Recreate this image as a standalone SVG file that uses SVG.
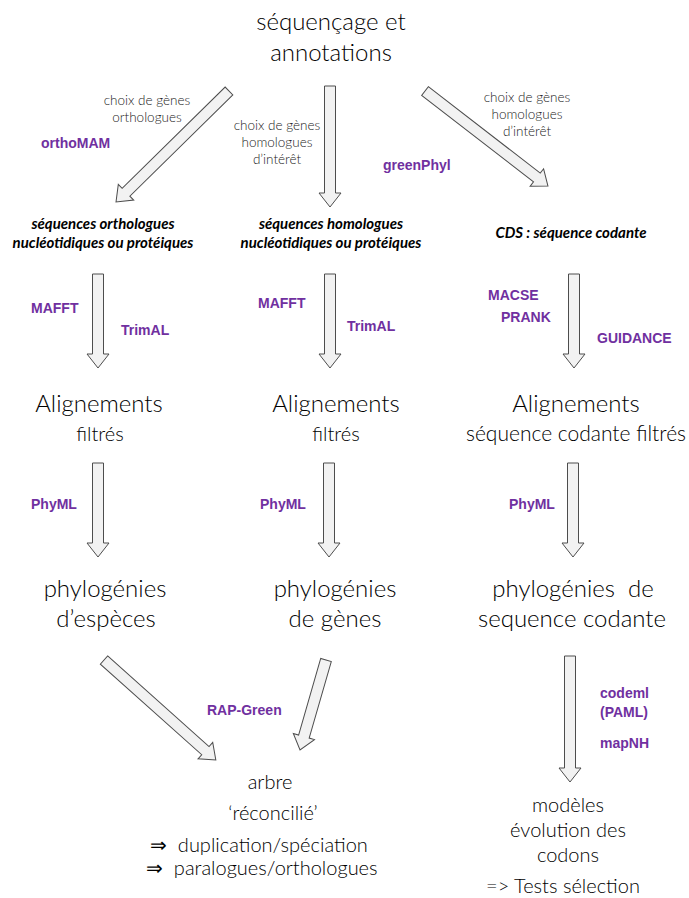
<svg xmlns="http://www.w3.org/2000/svg" width="689" height="898" viewBox="0 0 689 898">
<style>
.t{font-family:Lato,"Open Sans","Liberation Sans",sans-serif;fill:#000;font-weight:300}
.big{font-size:24px}
.mid{font-size:20px}
.sm{font-size:13.5px;fill:#222}
.bi{font-family:Lato,"Liberation Sans",sans-serif;font-size:15px;font-weight:bold;font-style:italic;fill:#000}
.tool{font-family:"Liberation Sans",Arial,sans-serif;font-size:14px;font-weight:bold;fill:#7030A0}
.arr{fill:#f2f2f2;stroke:#4d4d4d;stroke-width:1}
</style>
<rect width="689" height="898" fill="#fff"/>
<g id="connectors">
<path class="arr" transform="translate(229,91) rotate(135.5)" d="M0,-5.5H144.4V-11L158.4,0L144.4,11V5.5H0Z"/>
<path class="arr" transform="translate(330,86) rotate(90)" d="M0,-5.5H107V-11L121,0L107,11V5.5H0Z"/>
<path class="arr" transform="translate(425,91) rotate(37.7)" d="M0,-5.5H141.4V-11L155.4,0L141.4,11V5.5H0Z"/>
<path class="arr" transform="translate(98,274) rotate(90)" d="M0,-5.5H80V-11L94,0L80,11V5.5H0Z"/>
<path class="arr" transform="translate(330,274) rotate(90)" d="M0,-5.5H80V-11L94,0L80,11V5.5H0Z"/>
<path class="arr" transform="translate(574,274) rotate(90)" d="M0,-5.5H80V-11L94,0L80,11V5.5H0Z"/>
<path class="arr" transform="translate(98,463) rotate(90)" d="M0,-5.5H80V-11L94,0L80,11V5.5H0Z"/>
<path class="arr" transform="translate(329,463) rotate(90)" d="M0,-5.5H80V-11L94,0L80,11V5.5H0Z"/>
<path class="arr" transform="translate(573,463) rotate(90)" d="M0,-5.5H80V-11L94,0L80,11V5.5H0Z"/>
<path class="arr" transform="translate(104,660) rotate(41.8)" d="M0,-5.5H136V-11L150,0L136,11V5.5H0Z"/>
<path class="arr" transform="translate(326,660) rotate(106.1)" d="M0,-5.5H79.7V-11L93.7,0L79.7,11V5.5H0Z"/>
<path class="arr" transform="translate(570,656) rotate(90)" d="M0,-5.5H112V-11L126,0L112,11V5.5H0Z"/>
</g>
<g id="n-sequencage">
<text class="t big" x="331" y="30" text-anchor="middle">séquençage et</text>
<text class="t big" x="331" y="61" text-anchor="middle">annotations</text>
</g>
<g id="lbl-ortho">
<text class="t sm" x="147" y="105" text-anchor="middle">choix de gènes</text>
<text class="t sm" x="147" y="122" text-anchor="middle">orthologues</text>
</g>
<g id="lbl-homo1">
<text class="t sm" x="277" y="130" text-anchor="middle">choix de gènes</text>
<text class="t sm" x="277" y="147" text-anchor="middle">homologues</text>
<text class="t sm" x="277" y="164" text-anchor="middle">d’intérêt</text>
</g>
<g id="lbl-homo2">
<text class="t sm" x="527" y="102" text-anchor="middle">choix de gènes</text>
<text class="t sm" x="527" y="119" text-anchor="middle">homologues</text>
<text class="t sm" x="527" y="136" text-anchor="middle">d’intérêt</text>
</g>
<g id="tools-top">
<text class="tool" x="41" y="148">orthoMAM</text>
<text class="tool" x="383" y="170">greenPhyl</text>
</g>
<g id="n-seq-ortho">
<text class="bi" x="103" y="229" text-anchor="middle">séquences orthologues</text>
<text class="bi" x="103" y="248" text-anchor="middle">nucléotidiques ou protéiques</text>
</g>
<g id="n-seq-homo">
<text class="bi" x="331" y="229" text-anchor="middle">séquences homologues</text>
<text class="bi" x="331" y="248" text-anchor="middle">nucléotidiques ou protéiques</text>
</g>
<g id="n-cds">
<text class="bi" x="571" y="238" text-anchor="middle">CDS : séquence codante</text>
</g>
<g id="tools-align">
<text class="tool" x="31" y="313">MAFFT</text>
<text class="tool" x="121" y="335">TrimAL</text>
<text class="tool" x="258" y="308">MAFFT</text>
<text class="tool" x="347" y="331">TrimAL</text>
<text class="tool" x="488" y="300">MACSE</text>
<text class="tool" x="501" y="322">PRANK</text>
<text class="tool" x="597" y="343">GUIDANCE</text>
</g>
<g id="n-align1">
<text class="t big" x="99" y="412" text-anchor="middle">Alignements</text>
<text class="t mid" x="100" y="441" text-anchor="middle">filtrés</text>
</g>
<g id="n-align2">
<text class="t big" x="336" y="412" text-anchor="middle">Alignements</text>
<text class="t mid" x="336" y="441" text-anchor="middle">filtrés</text>
</g>
<g id="n-align3">
<text class="t big" x="576" y="412" text-anchor="middle">Alignements</text>
<text class="t mid" x="576" y="441" text-anchor="middle" style="font-size:21px">séquence codante filtrés</text>
</g>
<g id="tools-phyml">
<text class="tool" x="31" y="509">PhyML</text>
<text class="tool" x="260" y="509">PhyML</text>
<text class="tool" x="509" y="509">PhyML</text>
</g>
<g id="n-phylo1">
<text class="t big" x="105" y="597" text-anchor="middle">phylogénies</text>
<text class="t big" x="106" y="627" text-anchor="middle">d’espèces</text>
</g>
<g id="n-phylo2">
<text class="t big" x="335" y="597" text-anchor="middle">phylogénies</text>
<text class="t big" x="335" y="627" text-anchor="middle">de gènes</text>
</g>
<g id="n-phylo3">
<text class="t big" x="573" y="597" text-anchor="middle" xml:space="preserve">phylogénies  de</text>
<text class="t big" x="572" y="627" text-anchor="middle">sequence codante</text>
</g>
<g id="tools-bottom">
<text class="tool" x="207" y="715">RAP-Green</text>
<text class="tool" x="600" y="698">codeml</text>
<text class="tool" x="600" y="717">(PAML)</text>
<text class="tool" x="600" y="748">mapNH</text>
</g>
<g id="n-arbre">
<text class="t mid" x="270" y="789" text-anchor="middle">arbre</text>
<text class="t mid" x="273" y="820" text-anchor="middle">‘réconcilié’</text>
<text class="t mid" x="150" y="852" xml:space="preserve">⇒  duplication/spéciation</text>
<text class="t mid" x="146" y="875" xml:space="preserve">⇒  paralogues/orthologues</text>
</g>
<g id="n-modeles">
<text class="t mid" x="568" y="812" text-anchor="middle">modèles</text>
<text class="t mid" x="568" y="837" text-anchor="middle">évolution des</text>
<text class="t mid" x="568" y="862" text-anchor="middle">codons</text>
<text class="t mid" x="563" y="893" text-anchor="middle">=&gt; Tests sélection</text>
</g>
</svg>
